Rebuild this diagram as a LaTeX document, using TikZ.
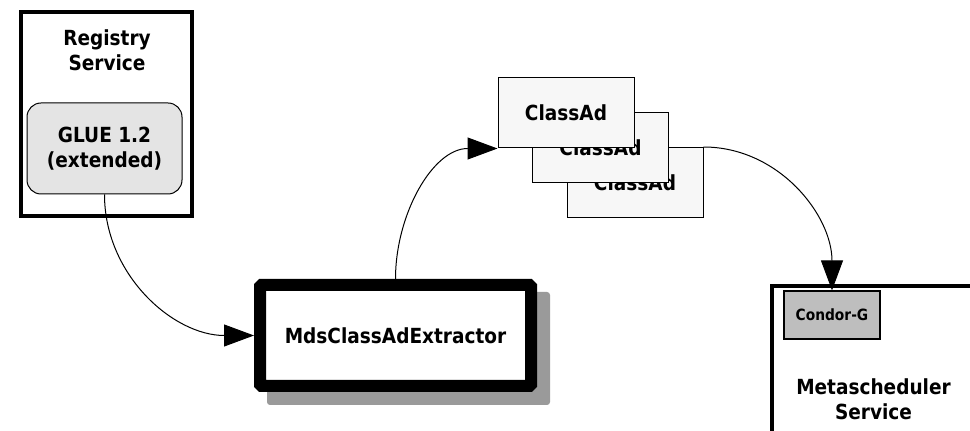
\documentclass[tikz,border=0pt]{standalone}
\usepackage{fontspec}
\setmainfont{DejaVu Sans}[FakeStretch=0.89]
\usetikzlibrary{arrows.meta}
\definecolor{gluefill}{HTML}{E4E4E4}
\definecolor{adfill}{HTML}{F7F7F7}
\definecolor{condorfill}{HTML}{BEBEBE}
\definecolor{shadowgray}{HTML}{9A9A9A}
\tikzset{
  x=1pt, y=1pt,
  bigtext/.style={font=\fontsize{20.8}{25}\selectfont\bfseries, align=center},
  smalltext/.style={font=\fontsize{15.5}{17}\selectfont\bfseries},
  servicebox/.style={draw, line width=4pt, fill=white, inner sep=0pt},
  gluebox/.style={draw, line width=1pt, fill=gluefill, rounded corners=14pt,
    minimum width=155pt, minimum height=91pt, bigtext},
  extractorbox/.style={draw, line width=12pt, fill=white, rounded corners=1.5pt,
    minimum width=271pt, minimum height=101pt, bigtext},
  shadowbox/.style={fill=shadowgray, rounded corners=3pt,
    minimum width=283pt, minimum height=113pt, inner sep=0pt},
  adbox/.style={draw, line width=1pt, fill=adfill,
    minimum width=136pt, minimum height=70pt, bigtext},
  condorbox/.style={draw, line width=1.2pt, fill=condorfill,
    minimum width=96pt, minimum height=48pt, smalltext},
  flow/.style={line width=1pt, -{Triangle[length=30pt,width=22pt]}},
}
\begin{document}
\begin{tikzpicture}
  \useasboundingbox (0,0) rectangle (970,431);
  \clip (0,0) rectangle (970,431);
  \fill[white] (0,0) rectangle (970,431);

  % registry service with its GLUE schema
  \node[servicebox, minimum width=171pt, minimum height=204pt] (reg) at (106.5,317) {};
  \node[bigtext] (regtxt) at (107,381) {Registry\\Service};
  \node[gluebox] (glue) at (104.5,282.5) {GLUE 1.2\\(extended)};

  % extractor with its drop shadow
  \node[shadowbox] (mdsshadow) at (408.5,82.5) {};
  \node[extractorbox] (mds) at (395.5,95.5) {MdsClassAdExtractor};

  % stack of ClassAds
  \node[adbox] (ad3) at (635,248.5) {ClassAd};
  \node[adbox] (ad2) at (600.5,283) {ClassAd};
  \node[adbox] (ad1) at (566,318) {ClassAd};

  % metascheduler service
  \node[servicebox, minimum width=218pt, minimum height=164pt] (meta) at (881,63) {};
  \node[condorbox] (condor) at (832,116) {Condor-G};
  \node[bigtext] (metatxt) at (873.5,32) {Metascheduler\\Service};

  % data flow
  \draw[flow] (glue.south) to[out=-90, in=180] (mds.west);
  \draw[flow] (mds.north) to[out=90, in=180] (ad1.south west);
  \draw[flow] (ad3.north east) to[out=0, in=90] (condor.north);
\end{tikzpicture}
\end{document}
